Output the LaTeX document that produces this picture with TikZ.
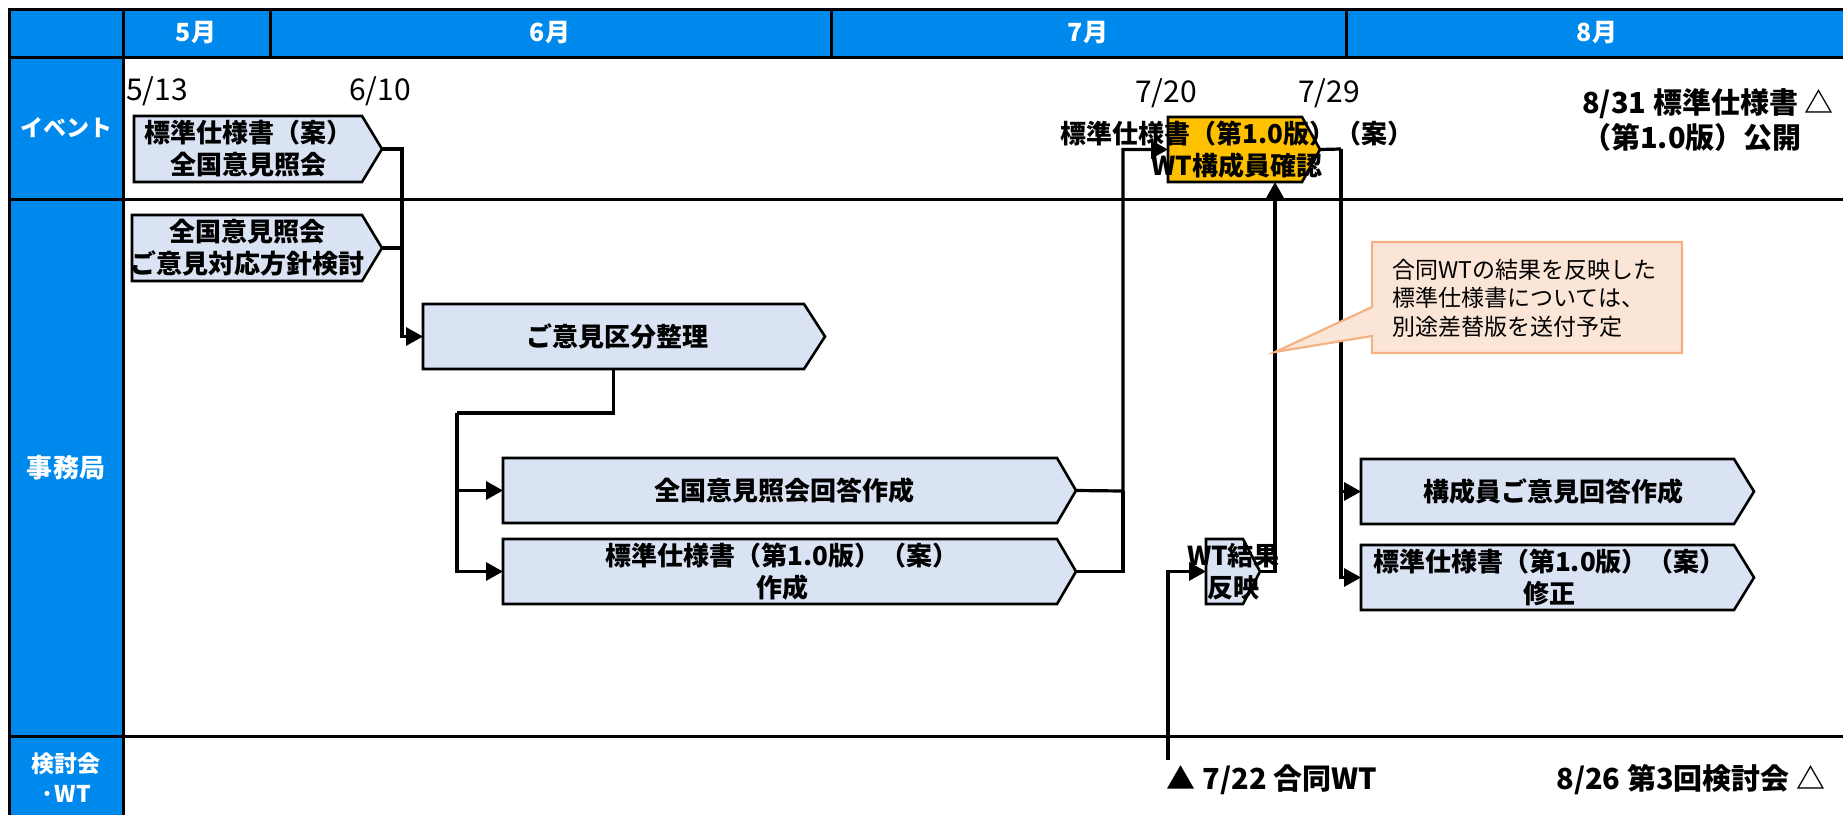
\documentclass[tikz,border=0pt]{standalone}
\usepackage{fontspec}
\setmainfont{Noto Sans CJK JP}
\usetikzlibrary{arrows.meta,calc}
\definecolor{hblue}{RGB}{0,137,236}
\definecolor{lblue}{RGB}{218,227,243}
\definecolor{orng}{RGB}{255,192,0}
\definecolor{cfill}{RGB}{251,229,214}
\definecolor{cline}{RGB}{244,177,131}
\newcommand\myfs[2]{\fontsize{#1}{#2}\selectfont}
\newcommand\tbox[9]{%
  \draw[shapeline,fill=#7] (#2,#3) -- (#4,#3) -- (#6,{(#3+#5)/2}) -- (#4,#5) -- (#2,#5) -- cycle;
  \coordinate (#1-tip) at (#6,{(#3+#5)/2});
  \coordinate (#1-w) at (#2,{(#3+#5)/2});
  \coordinate (#1-s) at ({(#2+#4)/2},#5);
  \node[boxtext,xshift=#8] (#1) at ({(#2+#4)/2},{(#3+#5)/2}) {#9};
}
\tikzset{
  gridline/.style={line width=3pt,black},
  shapeline/.style={line width=2.6pt,black,line join=miter},
  boxtext/.style={font=\bfseries\myfs{26}{32},align=center,inner sep=0pt},
  headtext/.style={font=\bfseries\myfs{25}{30},text=white,inner sep=0pt},
  sidetext/.style={font=\bfseries\myfs{23}{30},text=white,inner sep=0pt,align=center},
  datetext/.style={font=\myfs{30}{34},inner sep=0pt},
  bigtext/.style={font=\bfseries\myfs{28}{35},inner sep=0pt},
  conn/.style={line width=3.2pt,black},
  arr/.style={-{Triangle[length=17pt,width=18pt]}},
}
\begin{document}
\begin{tikzpicture}[x=1pt,y=-1pt]
\useasboundingbox (0,0) rectangle (1843,814);
% background frame
\fill[hblue] (9,9) rectangle (1850,57);
\fill[hblue] (9,57) rectangle (123,820);
\draw[gridline] (9,820) -- (9,9) -- (1850,9);
\draw[gridline] (9,57) -- (1850,57);
\draw[gridline] (9,199) -- (1850,199);
\draw[gridline] (9,736) -- (1850,736);
\draw[gridline] (123,9) -- (123,820);
\draw[gridline] (270,9) -- (270,57);
\draw[gridline] (831,9) -- (831,57);
\draw[gridline] (1346,9) -- (1346,57);
% header texts
\node[headtext] (h5) at (196,33) {5月};
\node[headtext] (h6) at (550,33) {6月};
\node[headtext] (h7) at (1088,33) {7月};
\node[headtext] (h8) at (1597,33) {8月};
\node[sidetext] (lev) at (66,128) {イベント};
\node[sidetext,font=\bfseries\myfs{26}{30}] (loff) at (66,468) {事務局};
\node[sidetext] (lwt) at (66,778) {検討会\\·WT};
% dates
\node[datetext] (d513) at (157,91) {5/13};
\node[datetext] (d610) at (380,91) {6/10};
\node[datetext] (d720) at (1166,93) {7/20};
\node[datetext] (d729) at (1329,93) {7/29};
\node[bigtext,anchor=west,align=left,font=\bfseries\myfs{29}{35}] (e831) at (1582,120) {8/31 標準仕様書 △\\（第1.0版）公開};
% boxes
\tbox{s1}{134}{116}{362}{182}{382}{lblue}{0pt}{標準仕様書（案）\\全国意見照会}
\tbox{s2}{132}{215}{362}{281}{382}{lblue}{0pt}{全国意見照会\\ご意見対応方針検討}
\tbox{k1}{423}{304}{804}{369}{825}{lblue}{4pt}{ご意見区分整理}
\tbox{k2}{503}{458}{1057}{523}{1076}{lblue}{4pt}{全国意見照会回答作成}
\tbox{k3}{503}{539}{1057}{604}{1076}{lblue}{2pt}{標準仕様書（第1.0版）（案）\\作成}
\tbox{wt}{1168}{117}{1302}{182}{1320}{orng}{2pt}{標準仕様書（第1.0版）（案）\\WT構成員確認}
\tbox{r}{1206}{539}{1243}{604}{1260}{lblue}{9pt}{WT結果\\反映}
\tbox{m1}{1361}{459}{1734}{524}{1754}{lblue}{6pt}{構成員ご意見回答作成}
\tbox{m2}{1361}{545}{1734}{610}{1754}{lblue}{2pt}{標準仕様書（第1.0版）（案）\\修正}
% junction coordinates
\coordinate (j1) at (402,149);
\coordinate (j2) at (457,413);
\coordinate (j3) at (1123,491);
\coordinate (j4) at (1341,149);
\coordinate (wtb) at (1275,182);
\coordinate (w722) at (1168,760);
% connectors
\draw[conn] (s2-tip) -| (j1);
\draw[conn,arr] (s1-tip) -- (j1) |- (k1-w);
\draw[conn] (k1-s) |- (j2);
\draw[conn,arr] (j2) |- (k2-w);
\draw[conn,arr] (j2) |- (k3-w);
\draw[conn] (k3-tip) -| (j3);
\draw[conn,arr] (k2-tip) -- (j3) |- (wt-w);
\draw[conn] (wt-tip) -- (j4);
\draw[conn,arr] (j4) |- (m1-w);
\draw[conn,arr] (j4) |- (m2-w);
\draw[conn,arr] (r-tip) -| (wtb);
\draw[conn,arr] (w722) |- (r-w);
% callout
\draw[cline,fill=cfill,line width=2.2pt] (1372,242) -- (1682,242) -- (1682,353) -- (1372,353) -- (1372,336) -- (1275,352) -- (1372,307) -- cycle;
\node[font=\myfs{23}{28.5},anchor=west,align=left,inner sep=0pt] (note) at (1392,298) {合同WTの結果を反映した\\標準仕様書については、\\別途差替版を送付予定};
% bottom row
\node[bigtext,font=\bfseries\myfs{29}{33}] (t722) at (1272,780) {▲ 7/22 合同WT};
\node[bigtext,font=\bfseries\myfs{29}{33}] (t826) at (1691,780) {8/26 第3回検討会 △};
\end{tikzpicture}
\end{document}
